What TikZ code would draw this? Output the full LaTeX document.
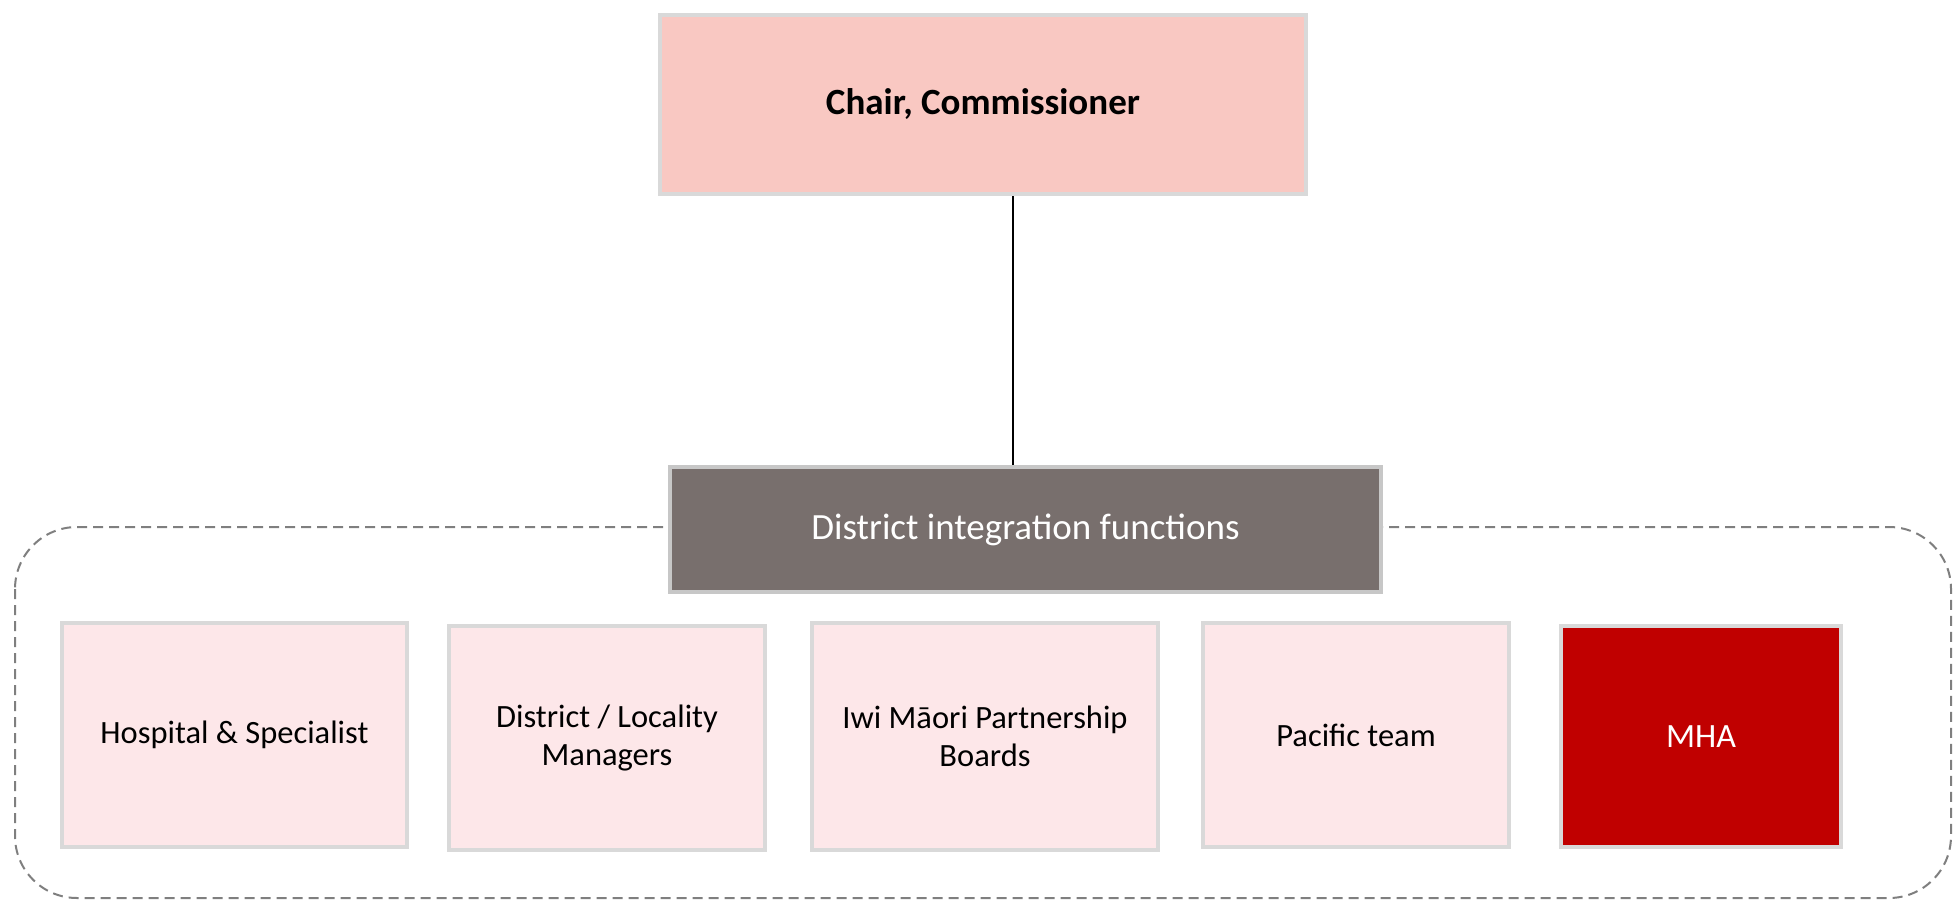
\documentclass[tikz,border=0pt]{standalone}
\usepackage{fontspec}
\setmainfont{Carlito}
\definecolor{chairfill}{HTML}{F9C8C2}
\definecolor{boxborder}{HTML}{D9D9D9}
\definecolor{distfill}{HTML}{786F6D}
\definecolor{pinkfill}{HTML}{FDE7E9}
\definecolor{mhafill}{HTML}{C00000}
\definecolor{dashgray}{HTML}{7F7F7F}
\begin{document}
\begin{tikzpicture}[x=1pt,y=-1pt,
  boxbase/.style={draw=boxborder, line width=4pt, align=center, inner sep=0pt},
  pbox/.style={boxbase, fill=pinkfill, text=black, font=\fontsize{32.5}{38}\selectfont},
  chairbox/.style={boxbase, fill=chairfill, text=black, font=\fontsize{37}{44}\selectfont\bfseries},
  distbox/.style={boxbase, draw=boxborder!80!gray, fill=distfill, text=white, font=\fontsize{37}{44}\selectfont},
  mhabox/.style={boxbase, fill=mhafill, text=white, font=\fontsize{34}{40}\selectfont},
  grouprect/.style={draw=dashgray, line width=2pt, dash pattern=on 10pt off 6pt, rounded corners=62pt},
  link/.style={draw=black, line width=2pt}]
\useasboundingbox (0,0) rectangle (1954,902);
\draw[grouprect] (15,527) rectangle (1951,898);
\node[chairbox, minimum width=646pt, minimum height=179pt] (chair) at (983,104.5) {Chair, Commissioner};
\node[distbox, minimum width=711pt, minimum height=125pt] (dist) at (1025.5,529.5) {District integration functions};
\coordinate (lx) at (1013,0);
\draw[link] (chair.south -| lx) -- (dist.north -| lx);
\node[pbox, minimum width=345pt, minimum height=224pt] (hosp) at (234.5,735) {Hospital \& Specialist};
\node[pbox, minimum width=316pt, minimum height=224pt] (loc) at (607,738) {District / Locality\\Managers};
\node[pbox, minimum width=346pt, minimum height=227pt] (iwi) at (985,736.5) {Iwi Māori Partnership\\Boards};
\node[pbox, minimum width=306pt, minimum height=224pt] (pac) at (1356,735) {Pacific team};
\node[mhabox, minimum width=280pt, minimum height=221pt] (mha) at (1701,736.5) {MHA};
\end{tikzpicture}
\end{document}
